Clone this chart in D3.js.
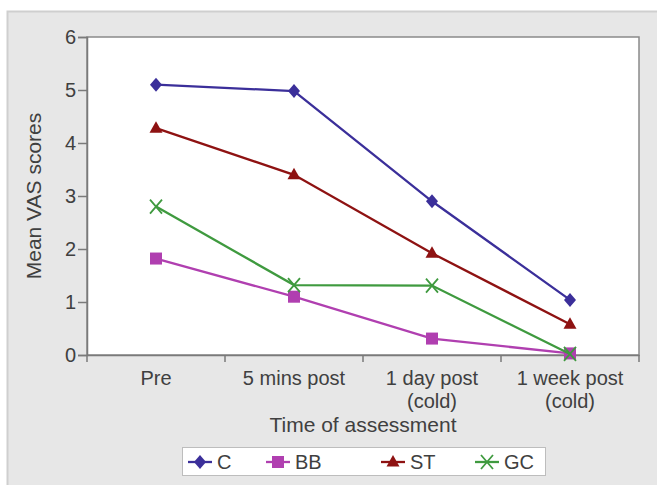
<!DOCTYPE html>
<html><head><meta charset="utf-8">
<script src="https://cdn.jsdelivr.net/npm/d3@7"></script>
<style>body{margin:0;background:#fff}svg{display:block}text{font-family:"Liberation Sans",Arial,sans-serif;fill:#404040}</style>
</head><body><svg id="c" width="657" height="485"></svg>
<script>
const categories = [["Pre"],["5 mins post"],["1 day post","(cold)"],["1 week post","(cold)"]];
const seriesNames = ["C","BB","ST","GC"];
const valuesC  = [5.1, 4.98, 2.9, 1.04];
const valuesBB = [1.82, 1.1, 0.31, 0.03];
const valuesST = [4.28, 3.4, 1.92, 0.58];
const valuesGC = [2.8, 1.32, 1.31, 0.02];
const yTicks = [0,1,2,3,4,5,6];
const colors = {C:"#3b2f9a", BB:"#b03fb0", ST:"#8e1212", GC:"#3f9a3f"};
const shapes = {C:"diamond", BB:"square", ST:"triangle", GC:"x"};
const allValues = {C:valuesC, BB:valuesBB, ST:valuesST, GC:valuesGC};

const svg = d3.select("#c");
svg.append("rect").attr("x",7.5).attr("y",11.5).attr("width",660).attr("height",480)
  .attr("fill","#e7e7e7").attr("stroke","#cfcfcf").attr("stroke-width",2);

const L=87, R=639, T=37, B=355;
const x = d3.scaleBand().domain(categories.map((c,i)=>i)).range([L,R]);
const y = d3.scaleLinear().domain([0,6]).range([B,T]);

svg.append("rect").attr("x",L).attr("y",T).attr("width",R-L).attr("height",B-T)
  .attr("fill","#fff").attr("stroke","#8a8a8a").attr("stroke-width",1.5);

// y axis
const ya = svg.append("g").attr("transform",`translate(${L},0)`)
  .call(d3.axisLeft(y).tickValues(yTicks).tickFormat(d3.format("d")).tickSize(9).tickPadding(2));
ya.select(".domain").attr("stroke","#7a7a7a").attr("stroke-width",1.5);
ya.selectAll(".tick line").attr("stroke","#7a7a7a").attr("stroke-width",1.5);
ya.selectAll("text").attr("font-size",20).attr("fill","#404040").attr("font-family","Liberation Sans, Arial, sans-serif");

// x axis
const xa = svg.append("g").attr("transform",`translate(0,${B})`)
  .call(d3.axisBottom(x).tickSize(0).tickFormat(""));
xa.select(".domain").attr("stroke","#7a7a7a").attr("stroke-width",1.5);
const edges = categories.map((c,i)=>x(i)).concat([R]);
svg.selectAll(".xt").data(edges).enter().append("line")
  .attr("x1",d=>d).attr("x2",d=>d).attr("y1",B).attr("y2",B+7)
  .attr("stroke","#7a7a7a").attr("stroke-width",1.5);
categories.forEach((lines,i)=>{
  lines.forEach((t,j)=>{
    svg.append("text").attr("x",x(i)+x.bandwidth()/2).attr("y",385+j*23)
      .attr("text-anchor","middle").attr("font-size",20).text(t);
  });
});

svg.append("text").attr("x",(L+R)/2).attr("y",432).attr("text-anchor","middle")
  .attr("font-size",21).text("Time of assessment");
svg.append("text").attr("transform",`translate(41,${(T+B)/2}) rotate(-90)`)
  .attr("text-anchor","middle").attr("font-size",21).text("Mean VAS scores");

function marker(g, shape, color, cx, cy){
  if(shape==="diamond"){
    g.append("path").attr("d",`M${cx},${cy-7}L${cx+6},${cy}L${cx},${cy+7}L${cx-6},${cy}Z`).attr("fill",color);
  } else if(shape==="square"){
    g.append("rect").attr("x",cx-6).attr("y",cy-6).attr("width",12).attr("height",12).attr("fill",color);
  } else if(shape==="triangle"){
    g.append("path").attr("d",`M${cx},${cy-7}L${cx+6.5},${cy+4.5}L${cx-6.5},${cy+4.5}Z`).attr("fill",color);
  } else {
    g.append("path").attr("d",`M${cx-6},${cy-7}L${cx+6},${cy+7}M${cx+6},${cy-7}L${cx-6},${cy+7}`)
      .attr("stroke",color).attr("stroke-width",1.8).attr("fill","none");
  }
}

const line = d3.line().x((d,i)=>x(i)+x.bandwidth()/2).y(d=>y(d));
const drawOrder = ["BB","GC","ST","C"];
drawOrder.forEach(s=>{
  const g = svg.append("g");
  g.append("path").datum(allValues[s]).attr("d",line).attr("fill","none")
    .attr("stroke",colors[s]).attr("stroke-width",2.3);
  allValues[s].forEach((v,i)=>marker(g, shapes[s], colors[s], x(i)+x.bandwidth()/2, y(v)));
});

// legend
svg.append("rect").attr("x",182.5).attr("y",447.5).attr("width",363).attr("height",28)
  .attr("fill","#fff").attr("stroke","#bdbdbd");
const legX = [188, 266, 381, 475];
seriesNames.forEach((s,i)=>{
  const g = svg.append("g");
  g.append("line").attr("x1",legX[i]).attr("x2",legX[i]+24).attr("y1",462).attr("y2",462)
    .attr("stroke",colors[s]).attr("stroke-width",2.3);
  marker(g, shapes[s], colors[s], legX[i]+12, 462);
  g.append("text").attr("x",legX[i]+29).attr("y",469).attr("font-size",20).text(s);
});
</script></body></html>
